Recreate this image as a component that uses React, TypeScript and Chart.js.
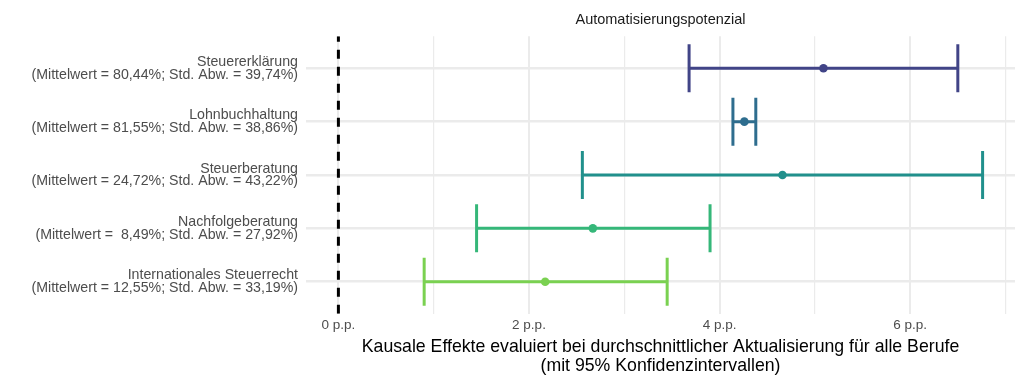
import React, { useEffect, useRef } from 'react';
import { Chart, registerables } from 'chart.js';

Chart.register(...registerables);

const categories = [
  'Steuererklärung',
  'Lohnbuchhaltung',
  'Steuerberatung',
  'Nachfolgeberatung',
  'Internationales Steuerrecht',
];
const statLabels = [
  '(Mittelwert = 80,44%; Std. Abw. = 39,74%)',
  '(Mittelwert = 81,55%; Std. Abw. = 38,86%)',
  '(Mittelwert = 24,72%; Std. Abw. = 43,22%)',
  '(Mittelwert =  8,49%; Std. Abw. = 27,92%)',
  '(Mittelwert = 12,55%; Std. Abw. = 33,19%)',
];
const estimates = [5.09, 4.26, 4.66, 2.67, 2.17];
const lowerCI = [3.68, 4.14, 2.56, 1.45, 0.9];
const upperCI = [6.5, 4.38, 6.76, 3.9, 3.45];
const colors = ['#414487', '#2E6D8E', '#21908C', '#35B779', '#7AD151'];
const xTicks = [0, 1, 2, 3, 4, 5, 6, 7];
const xTickLabels = ['0 p.p.', '', '2 p.p.', '', '4 p.p.', '', '6 p.p.', ''];
const zeroLine = 0;
const xMin = -0.34;
const xMax = 7.1;
const yMin = 0.4;
const yMax = 5.6;
const chartTitle = 'Automatisierungspotenzial';
const xTitle = [
  'Kausale Effekte evaluiert bei durchschnittlicher Aktualisierung für alle Berufe',
  '(mit 95% Konfidenzintervallen)',
];

const FONT = '"Liberation Sans", Arial, Helvetica, sans-serif';

export default function App() {
  const canvasRef = useRef<HTMLCanvasElement | null>(null);

  useEffect(() => {
    if (!canvasRef.current) return;
    const datasets: any[] = [];
    datasets.push({
      type: 'scatter',
      data: estimates.map((v, i) => ({ x: v, y: i + 1 })),
      pointRadius: 4.3,
      pointBackgroundColor: colors,
      pointBorderWidth: 0,
      showLine: false,
      order: 0,
    });
    categories.forEach((_, i) => {
      datasets.push({
        type: 'line',
        data: [
          { x: lowerCI[i], y: i + 1 },
          { x: upperCI[i], y: i + 1 },
        ],
        borderColor: colors[i],
        borderWidth: 3,
        pointStyle: 'line',
        pointRotation: 90,
        pointRadius: 24,
        pointBorderColor: colors[i],
        pointBorderWidth: 3,
        order: 1,
      });
    });
    datasets.push({
      type: 'line',
      data: [
        { x: zeroLine, y: yMax },
        { x: zeroLine, y: yMin },
      ],
      borderColor: '#000000',
      borderWidth: 3,
      borderDash: [9, 8],
      pointRadius: 0,
      order: 2,
    });

    const chart = new Chart(canvasRef.current, {
      type: 'scatter',
      data: { datasets },
      options: {
        animation: false,
        responsive: true,
        maintainAspectRatio: false,
        events: [],
        layout: { autoPadding: false, padding: { left: 0, right: 9, top: 0, bottom: 0 } },
        plugins: {
          legend: { display: false },
          tooltip: { enabled: false },
          title: {
            display: true,
            text: chartTitle,
            fullSize: false,
            color: '#1A1A1A',
            font: { family: FONT, size: 14.5, weight: 'normal', lineHeight: 1.2 },
            padding: { top: 11.3, bottom: 7.6 },
          },
        },
        scales: {
          x: {
            type: 'linear',
            min: xMin,
            max: xMax,
            afterBuildTicks: (scale: any) => {
              scale.ticks = xTicks.map((v) => ({ value: v }));
            },
            afterFit: (scale: any) => {
              scale.height = 70.3;
              scale.paddingLeft = 0;
              scale.paddingRight = 0;
            },
            ticks: {
              autoSkip: false,
              maxRotation: 0,
              padding: 3,
              color: '#4D4D4D',
              font: { family: FONT, size: 13.5, lineHeight: 1.2 },
              callback: (_v: any, i: number) => xTickLabels[i],
            },
            grid: {
              color: '#EBEBEB',
              lineWidth: (ctx: any) => (ctx.tick && ctx.tick.value % 2 === 0 ? 2 : 1.2),
              drawTicks: false,
            },
            border: { display: false },
            title: {
              display: true,
              text: xTitle,
              color: '#000000',
              font: { family: FONT, size: 17.7, lineHeight: 19 / 17.7 },
              padding: { top: 0, bottom: 8 },
            },
          },
          y: {
            type: 'linear',
            min: yMin,
            max: yMax,
            reverse: true,
            afterBuildTicks: (scale: any) => {
              scale.ticks = categories.map((_, i) => ({ value: i + 1 }));
            },
            afterFit: (scale: any) => {
              scale.width = 306;
            },
            ticks: {
              autoSkip: false,
              padding: 8,
              color: '#4D4D4D',
              font: { family: FONT, size: 14.2, lineHeight: 0.9 },
              callback: (_v: any, i: number) => [categories[i], statLabels[i]],
            },
            grid: {
              color: '#EBEBEB',
              lineWidth: 2.5,
              drawTicks: false,
            },
            border: { display: false },
          },
        },
      },
    });
    return () => chart.destroy();
  }, []);

  return (
    <div style={{ position: 'absolute', left: 0, top: 0, width: 1024, height: 384, background: '#ffffff' }}>
      <canvas ref={canvasRef} />
    </div>
  );
}
